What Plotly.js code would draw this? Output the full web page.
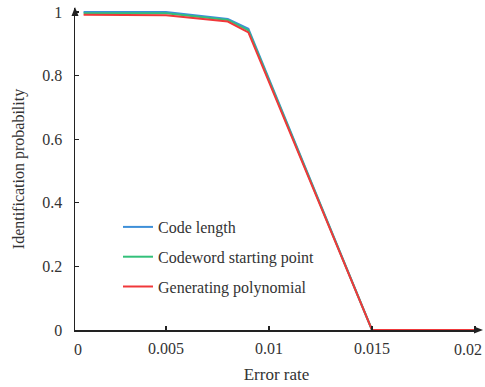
<!DOCTYPE html>
<html>
<head>
<meta charset="utf-8">
<script src="https://cdn.plot.ly/plotly-3.0.1.min.js"></script>
<style>html,body{margin:0;padding:0;background:#fff;}#chart{width:485px;height:387px;}</style>
</head>
<body>
<div id="chart"></div>
<script>
// Data
const errorRate = [0.001, 0.005, 0.008, 0.009, 0.015, 0.02];
const codeLength = [1.0, 1.0, 0.978, 0.947, 0, 0];
const codewordStart = [0.996, 0.996, 0.975, 0.942, 0, 0];
const genPolynomial = [0.991, 0.990, 0.970, 0.936, 0, 0];
const seriesNames = ['Code length', 'Codeword starting point', 'Generating polynomial'];
const seriesColors = ['#3d8fd8', '#33c07a', '#f0383a'];
const xTickVals = [0.005, 0.01, 0.015, 0.02];
const xTickText = ['0.005', '0.01', '0.015', ''];
const xEdgeLabels = ['0', '0.02'];
const yTickVals = [0, 0.2, 0.4, 0.6, 0.8, 1];
const yTickText = ['0', '0.2', '0.4', '0.6', '0.8', '1'];

const W = 485, H = 387;
const M = {l: 75, r: 7, t: 8, b: 57};
const pw = W - M.l - M.r, ph = H - M.t - M.b;
const px = X => (X - M.l) / pw;
const py = Y => (H - M.b - Y) / ph;
const font = 'Liberation Serif, Times New Roman, serif';
const ink = '#222';
const txt = '#333';

const series = [codeLength, codewordStart, genPolynomial];
const traces = series.map((ys, i) => ({
  x: errorRate, y: ys, type: 'scatter', mode: 'lines',
  name: seriesNames[i], legendgroup: 'g' + i,
  line: {color: seriesColors[i], width: 2}
}));

const layout = {
  width: W, height: H,
  margin: M,
  paper_bgcolor: '#fff', plot_bgcolor: '#fff',
  font: {family: font, size: 16, color: txt},
  showlegend: true,
  legend: {x: px(118), y: py(210), xanchor: 'left', yanchor: 'top',
    font: {family: font, size: 16, color: txt},
    tracegroupgap: 6, bgcolor: 'rgba(0,0,0,0)'},
  xaxis: {
    range: [0.000583, 0.020146], tickvals: xTickVals, ticktext: xTickText,
    ticks: 'inside', ticklen: 4, tickcolor: ink, tickwidth: 1.2,
    showline: true, linecolor: ink, linewidth: 1.5,
    showgrid: false, zeroline: false,
    tickfont: {family: font, size: 16, color: txt},
    ticklabelstandoff: 3,
    title: {text: 'Error rate', font: {family: font, size: 17, color: txt}, standoff: 12}
  },
  yaxis: {
    range: [0, 1.0126], tickvals: yTickVals, ticktext: yTickText,
    ticks: 'inside', ticklen: 4, tickcolor: ink, tickwidth: 1.2,
    showline: true, linecolor: ink, linewidth: 1.5,
    showgrid: false, zeroline: false,
    tickfont: {family: font, size: 16, color: txt},
    ticklabelstandoff: 8,
    title: {text: 'Identification probability', font: {family: font, size: 16, color: txt}, standoff: 13}
  },
  shapes: [
    {type: 'path', xref: 'paper', yref: 'paper', fillcolor: ink, line: {width: 0},
     path: `M${px(75)},${py(7)} L${px(71.5)},${py(16)} L${px(78.5)},${py(16)} Z`},
    {type: 'path', xref: 'paper', yref: 'paper', fillcolor: ink, line: {width: 0},
     path: `M${px(483)},${py(330)} L${px(474)},${py(326.5)} L${px(474)},${py(333.5)} Z`}
  ],
  annotations: [
    {text: xEdgeLabels[0], xref: 'paper', yref: 'paper', x: px(78), y: py(350), showarrow: false,
     xanchor: 'center', yanchor: 'middle', font: {family: font, size: 16, color: txt}},
    {text: xEdgeLabels[1], xref: 'paper', yref: 'paper', x: px(484), y: py(350), showarrow: false,
     xanchor: 'right', yanchor: 'middle', font: {family: font, size: 16, color: txt}}
  ]
};

Plotly.newPlot('chart', traces, layout, {displayModeBar: false, staticPlot: true});
</script>
</body>
</html>
